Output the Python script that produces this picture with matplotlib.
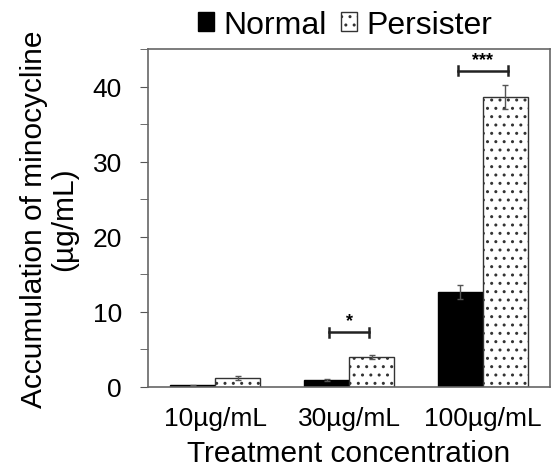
import numpy as np
import matplotlib.pyplot as plt

plt.rcParams['font.family'] = ['Liberation Sans', 'DejaVu Sans']
plt.rcParams['hatch.linewidth'] = 1.0

conc = ['10µg/mL', '30µg/mL', '100µg/mL']
normal = [0.2, 0.9, 12.6]
normal_err = [0.1, 0.15, 0.9]
persister = [1.2, 4.0, 38.6]
persister_err = [0.3, 0.3, 1.6]

x = np.arange(len(conc))
w = 0.336

fig = plt.figure(figsize=(5.51, 4.77), dpi=100)
ax = fig.add_axes([0.269, 0.187, 0.729, 0.708])

ax.bar(x - w/2, normal, w, color='black', edgecolor='black', label='Normal',
       yerr=normal_err, error_kw=dict(ecolor='#555555', elinewidth=1, capsize=2))
ax.bar(x + w/2, persister, w, color='white', edgecolor='#333333', hatch='..',
       label='Persister', linewidth=1,
       yerr=persister_err, error_kw=dict(ecolor='#555555', elinewidth=1, capsize=2))

# significance brackets
for xc, yb, txt in [(1, 7.3, '*'), (2, 42.1, '***')]:
    hw = 0.15 if txt == '*' else 0.19
    ax.plot([xc - hw, xc + hw], [yb, yb], color='#222222', lw=1.8)
    ax.plot([xc - hw, xc - hw], [yb - 0.6, yb + 0.6], color='#222222', lw=1.8)
    ax.plot([xc + hw, xc + hw], [yb - 0.6, yb + 0.6], color='#222222', lw=1.8)
    ax.text(xc, yb + 0.4, txt, ha='center', va='bottom', fontsize=13, fontweight='bold')

ax.set_xlim(-0.5, 2.5)
ax.set_ylim(0, 45)
ax.set_yticks([0, 10, 20, 30, 40])
ax.set_yticks([5, 15, 25, 35, 45], minor=True)
ax.set_xticks(x)
ax.set_xticklabels(conc)
ax.tick_params(axis='y', which='both', length=6, color='#555555', labelsize=19, pad=13)
ax.tick_params(axis='x', length=0, labelsize=19, pad=14)
for s in ax.spines.values():
    s.set_color('#666666')
    s.set_linewidth(1.2)

ax.set_xlabel('Treatment concentration', fontsize=21.5, labelpad=6)
ax.set_ylabel('Accumulation of minocycline\n(µg/mL)', fontsize=21.5, labelpad=10,
              linespacing=1.1)

ax.legend(loc='lower center', bbox_to_anchor=(0.49, 0.985), ncol=2, frameon=False,
          fontsize=23, handlelength=0.5, handleheight=0.5, handletextpad=0.3,
          columnspacing=0.45, borderaxespad=0.05)

fig.savefig('out.png', dpi=100)
